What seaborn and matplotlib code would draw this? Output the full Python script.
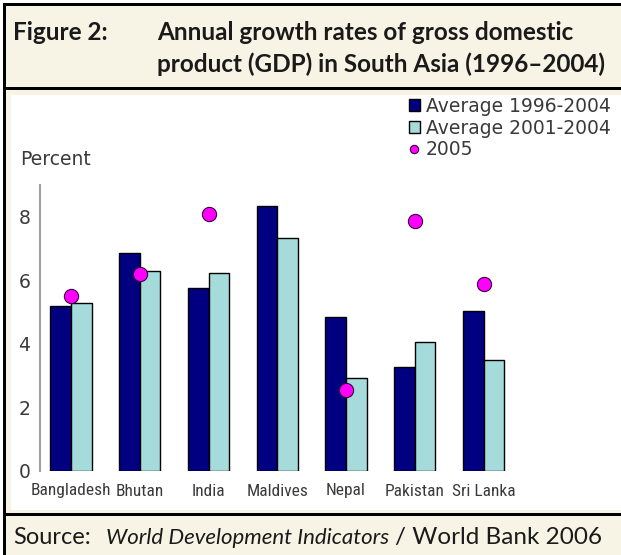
import numpy as np
import pandas as pd
import matplotlib
matplotlib.use("Agg")
import matplotlib.pyplot as plt
import seaborn as sns
from matplotlib import font_manager
from matplotlib.patches import Rectangle, Patch
from matplotlib.lines import Line2D

# Data
countries = ['Bangladesh', 'Bhutan', 'India', 'Maldives', 'Nepal', 'Pakistan', 'Sri Lanka']
avg_1996_2004 = [5.2, 6.85, 5.77, 8.35, 4.86, 3.27, 5.04]
avg_2001_2004 = [5.3, 6.3, 6.23, 7.33, 2.92, 4.07, 3.5]
growth_2005 = [5.5, 6.2, 8.08, np.nan, 2.55, 7.88, 5.89]
series_names = ['Average 1996-2004', 'Average 2001-2004', '2005']
y_ticks = [0, 2, 4, 6, 8]

NAVY = '#000080'
PALE = '#a6dbdb'
MAGENTA = '#ff00ff'
BEIGE = '#f8f4e5'
GREY_TXT = '#3a3a3a'


def pick_font(names, fallback='DejaVu Sans'):
    have = {f.name for f in font_manager.fontManager.ttflist}
    for n in names:
        if n in have:
            return n
    return fallback


narrow = pick_font(['Liberation Sans Narrow', 'DejaVu Sans Condensed', 'Roboto Condensed'])
title_font = pick_font(['Lato', 'Open Sans', 'Noto Sans'])

sns.set_style('white')
plt.rcParams['font.family'] = ['DejaVu Sans']

W, H = 621, 555
fig = plt.figure(figsize=(W / 100, H / 100), dpi=100)
fig.patch.set_facecolor('white')


def px_rect(x0, y0, x1, y1, color):
    # rectangle given in pixel coords, origin at top-left
    fig.patches.append(Rectangle((x0 / W, 1 - y1 / H), (x1 - x0) / W, (y1 - y0) / H,
                                 transform=fig.transFigure, facecolor=color,
                                 edgecolor='none', zorder=-10))


# header / panel / footer bands
px_rect(3, 3, W, H, BEIGE)
px_rect(11, 95, W, 510, 'white')
# black rules
px_rect(3, 3, W, 6, 'black')
px_rect(3, 3, 6, H, 'black')
px_rect(3, 87, W, 90, 'black')
px_rect(3, 513, W, 516, 'black')

# titles
tkw = dict(fontsize=17.5, fontweight='bold', family=title_font, color='#1a1a1a', va='baseline')
fig.text(13 / W, 1 - 40 / H, 'Figure 2:', **tkw)
fig.text(157 / W, 1 - 40 / H, 'Annual growth rates of gross domestic', **tkw)
fig.text(157 / W, 1 - 72 / H, 'product (GDP) in South Asia (1996\u20132004)', **tkw)

# source line: italic part followed by roman part
fig.text(13 / W, 1 - 544 / H, 'Source:', fontsize=17, family=title_font,
         color='#1a1a1a', va='baseline')
src_it = fig.text(106 / W, 1 - 544 / H, 'World Development Indicators', fontsize=16,
                  family=title_font, style='italic', color='#1a1a1a', va='baseline')
fig.canvas.draw()
x_end = src_it.get_window_extent().x1
fig.text(x_end / W + 6 / W, 1 - 544 / H, '/ World Bank 2006', fontsize=17.5,
         family=title_font, color='#1a1a1a', va='baseline')

# chart
bars = pd.DataFrame({
    'country': countries * 2,
    'value': avg_1996_2004 + avg_2001_2004,
    'series': [series_names[0]] * len(countries) + [series_names[1]] * len(countries),
})

ax = fig.add_axes([40 / W, (H - 471) / H, 478 / W, 286 / H])
ax.set_facecolor('none')
sns.barplot(data=bars, x='country', y='value', hue='series',
            palette=[NAVY, PALE], width=0.6, edgecolor='black', linewidth=1,
            saturation=1, legend=False, ax=ax)
dots = pd.DataFrame({'country': countries, 'value': growth_2005}).dropna()
ax.scatter([countries.index(c) for c in dots['country']], dots['value'],
           s=105, color=MAGENTA, edgecolor='#3a003a', linewidth=0.8, zorder=5)

ax.set_xlim(-0.45, 6.5)
ax.set_ylim(0, 9)
ax.set_yticks(y_ticks)
ax.set_xlabel('')
ax.set_ylabel('')
for s in ['top', 'right', 'bottom']:
    ax.spines[s].set_visible(False)
ax.spines['left'].set_color('#a0a0a0')
ax.spines['left'].set_linewidth(1.5)
ax.tick_params(axis='y', length=4, width=1, color='#a0a0a0', pad=3,
               labelsize=13.5, labelcolor=GREY_TXT)
ax.tick_params(axis='x', length=0, pad=9, labelsize=12.5, labelcolor=GREY_TXT)
for lab in ax.get_xticklabels():
    lab.set_family(narrow)

fig.text(20 / W, 1 - 160 / H, 'Percent', fontsize=13.5, color=GREY_TXT, va='center')

handles = [
    Patch(facecolor=NAVY, edgecolor='black', linewidth=1),
    Patch(facecolor=PALE, edgecolor='black', linewidth=1),
    Line2D([], [], marker='o', linestyle='none', markersize=6,
           markerfacecolor=MAGENTA, markeredgecolor='#3a003a', markeredgewidth=0.8),
]
fig.legend(handles, series_names, loc='upper left', bbox_to_anchor=(405 / W, 1 - 93 / H),
           frameon=False, fontsize=13.5, labelcolor=GREY_TXT, handlelength=0.6,
           handleheight=0.6, handletextpad=0.3, labelspacing=0.15,
           borderpad=0.2, borderaxespad=0)

fig.savefig('out.png', dpi=100)
